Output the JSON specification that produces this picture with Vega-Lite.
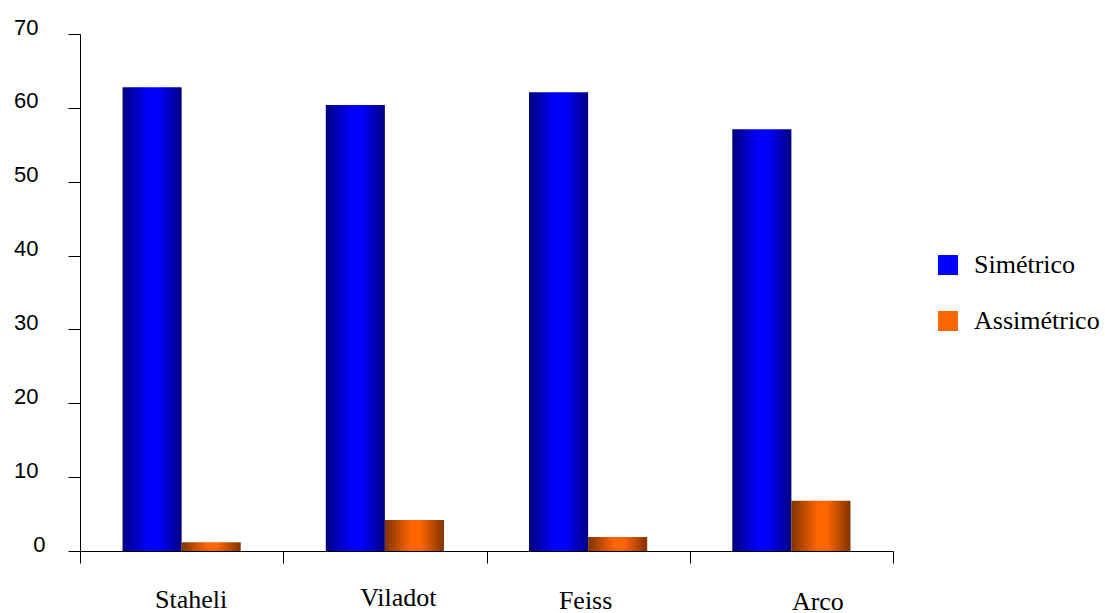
{
  "$schema": "https://vega.github.io/schema/vega-lite/v6.json",
  "width": 813,
  "height": 517,
  "autosize": {"type": "none"},
  "padding": {"left": 80, "top": 34, "right": 212, "bottom": 62},
  "background": "white",
  "config": {"view": {"stroke": null}},
  "data": {
    "values": [
      {"estudo": "Staheli", "tipo": "Simétrico", "valor": 62.8},
      {"estudo": "Staheli", "tipo": "Assimétrico", "valor": 1.2},
      {"estudo": "Viladot", "tipo": "Simétrico", "valor": 60.4},
      {"estudo": "Viladot", "tipo": "Assimétrico", "valor": 4.2},
      {"estudo": "Feiss", "tipo": "Simétrico", "valor": 62.1},
      {"estudo": "Feiss", "tipo": "Assimétrico", "valor": 1.9},
      {"estudo": "Arco", "tipo": "Simétrico", "valor": 57.1},
      {"estudo": "Arco", "tipo": "Assimétrico", "valor": 6.8}
    ]
  },
  "encoding": {
    "x": {
      "field": "estudo", "type": "nominal", "sort": null, "title": null,
      "scale": {"paddingInner": 0, "paddingOuter": 0},
      "axis": {
        "labelAngle": 0, "labelFont": "Liberation Serif", "labelFontSize": 26,
        "labelColor": "black", "domainColor": "black",
        "tickColor": "black", "tickSize": 12, "tickBand": "extent",
        "labelBaseline": "alphabetic", "tickExtra": true,
        "labelOffset": {
          "condition": [
            {"test": "datum.value === 'Staheli'", "value": 9},
            {"test": "datum.value === 'Viladot'", "value": 13},
            {"test": "datum.value === 'Feiss'", "value": -3}
          ],
          "value": 26
        },
        "labelPadding": {
          "condition": [
            {"test": "datum.value === 'Viladot'", "value": 42},
            {"test": "datum.value === 'Feiss'", "value": 45},
            {"test": "datum.value === 'Arco'", "value": 46}
          ],
          "value": 44
        }
      }
    },
    "xOffset": {"field": "tipo", "type": "nominal", "sort": ["Simétrico", "Assimétrico"], "scale": {"domain": ["Simétrico", "Assimétrico"], "paddingInner": 0, "paddingOuter": 0.72}},
    "y": {
      "field": "valor", "type": "quantitative", "title": null,
      "scale": {"domain": [0, 70], "nice": false},
      "axis": {
        "values": [0, 10, 20, 30, 40, 50, 60, 70], "grid": false,
        "labelFont": "Liberation Sans", "labelFontSize": 22, "labelColor": "black",
        "tickSize": 12, "domainColor": "black", "tickColor": "black",
        "labelBaseline": "alphabetic", "labelOverlap": false, "labelFlush": false,
        "labelPadding": {"condition": {"test": "datum.value === 0", "value": 23}, "value": 30}
      }
    }
  },
  "layer": [
    {
      "transform": [{"filter": "datum.tipo === 'Simétrico'"}],
      "mark": {"type": "bar", "color": {"gradient": "linear", "x1": 0, "y1": 0, "x2": 1, "y2": 0,
        "stops": [{"offset": 0, "color": "#000080"}, {"offset": 0.45, "color": "#0000ff"}, {"offset": 0.6, "color": "#0000ff"}, {"offset": 1, "color": "#000080"}]}}
    },
    {
      "transform": [{"filter": "datum.tipo === 'Assimétrico'"}],
      "mark": {"type": "bar", "color": {"gradient": "linear", "x1": 0, "y1": 0, "x2": 1, "y2": 0,
        "stops": [{"offset": 0, "color": "#803300"}, {"offset": 0.45, "color": "#ff6600"}, {"offset": 0.6, "color": "#ff6600"}, {"offset": 1, "color": "#803300"}]}}
    },
    {
      "mark": {"type": "bar", "opacity": 0},
      "encoding": {
        "color": {
          "field": "tipo", "type": "nominal", "title": null,
          "scale": {"domain": ["Simétrico", "Assimétrico"], "range": ["#0000ff", "#ff6600"]},
          "legend": {
            "orient": "none", "legendX": 855, "legendY": 218,
            "symbolType": "square", "symbolSize": 400, "symbolStrokeWidth": 0, "symbolOpacity": 1,
            "labelFont": "Liberation Serif", "labelFontSize": 26, "labelColor": "black",
            "rowPadding": 30, "labelOffset": 13,
            "encode": {
              "symbols": {
                "update": {
                  "opacity": {"value": 1},
                  "fill": [
                    {"test": "datum.value === 'Simétrico'", "value": {"gradient": "linear", "x1": 0, "y1": 0, "x2": 1, "y2": 0,
                      "stops": [{"offset": 0, "color": "#000080"}, {"offset": 0.45, "color": "#0000ff"}, {"offset": 0.6, "color": "#0000ff"}, {"offset": 1, "color": "#000080"}]}},
                    {"value": {"gradient": "linear", "x1": 0, "y1": 0, "x2": 1, "y2": 0,
                      "stops": [{"offset": 0, "color": "#803300"}, {"offset": 0.45, "color": "#ff6600"}, {"offset": 0.6, "color": "#ff6600"}, {"offset": 1, "color": "#803300"}]}}
                  ]
                }
              }
            }
          }
        }
      }
    }
  ]
}
